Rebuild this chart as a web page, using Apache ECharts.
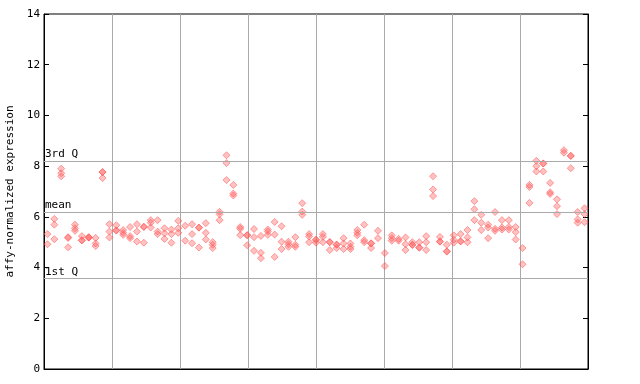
<!DOCTYPE html>
<html>
<head>
<meta charset="utf-8">
<script src="https://cdn.jsdelivr.net/npm/echarts@6/dist/echarts.min.js"></script>
<style>html,body{margin:0;padding:0;background:#fff}#c{width:640px;height:384px}</style>
</head>
<body>
<div id="c"></div>
<script>
// replicate values per sample column (79 columns), sorted high to low; null = no replicate
const rep1 = [5.32,5.92,7.9,5.2,5.69,5.24,5.2,5.17,7.77,5.71,5.67,5.48,5.6,5.71,5.61,5.87,5.87,5.55,5.5,5.84,
  5.65,5.71,5.58,5.75,5.0,6.2,8.43,7.26,5.6,5.28,5.52,5.25,5.5,5.8,5.63,5.02,5.2,6.54,5.32,5.1,
  5.32,5.01,4.91,5.16,4.95,5.48,5.69,4.96,5.45,4.57,5.27,5.13,5.19,5.0,5.0,5.24,7.6,5.21,4.9,5.27,
  5.32,5.48,6.62,6.08,5.69,6.19,5.87,5.87,5.6,4.77,7.26,8.21,8.11,7.34,6.69,8.63,8.41,6.19,6.34];
const rep2 = [4.92,5.69,7.72,5.17,5.55,5.08,5.19,4.95,7.76,5.42,5.47,5.37,5.24,5.42,5.6,5.77,5.42,5.35,5.32,5.55,
  5.06,5.32,5.57,5.37,4.9,6.1,8.12,6.92,5.53,5.27,5.2,4.58,5.42,5.3,5.02,4.92,4.9,6.21,5.23,5.09,
  5.21,5.0,4.9,4.95,4.82,5.37,5.08,4.95,5.16,4.06,5.16,5.06,4.92,4.9,4.79,5.0,7.08,5.03,4.64,5.1,
  5.04,5.19,6.3,5.77,5.58,5.53,5.58,5.6,5.4,4.13,7.18,8.0,8.1,6.97,6.42,8.53,8.4,5.9,6.11];
const rep3 = [null,5.12,7.6,4.8,5.45,5.07,5.18,4.85,7.53,5.19,5.46,5.29,5.16,5.03,4.98,5.58,5.32,5.13,4.98,5.37,
  null,4.96,4.79,5.11,4.77,5.87,7.45,6.84,5.28,4.88,4.66,4.37,5.29,4.42,4.73,4.82,4.82,6.08,5.0,4.98,
  5.0,4.69,4.77,4.73,4.73,5.27,5.0,4.77,null,null,5.06,null,4.69,4.89,4.78,4.69,6.82,5.02,4.63,4.98,
  5.03,5.0,5.87,5.48,5.16,5.45,5.5,5.5,5.11,null,6.55,7.79,7.79,6.9,6.11,null,7.92,5.77,5.79];
const refLines = [{name: '3rd Q', value: 8.2}, {name: 'mean', value: 6.2}, {name: '1st Q', value: 3.58}];
const yTicks = [0, 2, 4, 6, 8, 10, 12, 14];
const nColumns = 79;
const nGroups = 8;

const font = 'DejaVu Sans Mono';
const toPts = arr => arr.map((v, i) => v == null ? null : [i + 0.5, v]).filter(p => p);
const itemStyle = {color: 'rgba(255,85,85,0.45)', borderColor: 'rgba(255,85,85,0.85)', borderWidth: 0.8};

const chart = echarts.init(document.getElementById('c'), null, {renderer: 'canvas'});
const scatter = (arr, withLines) => {
  const s = {type: 'scatter', data: toPts(arr), symbol: 'diamond', symbolSize: [7, 7], itemStyle, silent: true, animation: false, z: 3};
  if (withLines) {
    s.markLine = {
      silent: true, symbol: 'none', animation: false,
      lineStyle: {color: '#aaaaaa', type: 'solid', width: 1},
      label: {position: 'insideStartTop', formatter: p => p.name, fontFamily: font, fontSize: 11, color: '#000', distance: [1, 1]},
      data: refLines.map(r => ({name: r.name, yAxis: r.value}))
    };
  }
  return s;
};
chart.setOption({
  animation: false,
  grid: {left: 44, right: 52, top: 14, bottom: 15, outerBoundsMode: 'none', containLabel: false,
    show: true, borderColor: '#000', borderWidth: 1, backgroundColor: 'transparent'},
  xAxis: {type: 'value', min: 0, max: nColumns, interval: nColumns / nGroups,
    axisLine: {show: true, lineStyle: {color: '#000'}}, axisTick: {show: false}, axisLabel: {show: false},
    splitLine: {show: true, lineStyle: {color: '#aaaaaa', width: 1}}},
  yAxis: [
    {type: 'value', min: yTicks[0], max: yTicks[yTicks.length - 1], interval: 2,
      name: 'affy-normalized expression', nameLocation: 'middle', nameGap: 28,
      nameTextStyle: {fontFamily: font, fontSize: 11, color: '#000'},
      axisLine: {show: true, lineStyle: {color: '#000'}},
      axisTick: {show: true, inside: true, length: 5, lineStyle: {color: '#000'}},
      axisLabel: {fontFamily: font, fontSize: 11, color: '#000', margin: 4},
      splitLine: {show: false}},
    {type: 'value', min: yTicks[0], max: yTicks[yTicks.length - 1], interval: 2, position: 'right',
      axisLine: {show: true, lineStyle: {color: '#000'}},
      axisTick: {show: true, inside: true, length: 5, lineStyle: {color: '#000'}},
      axisLabel: {show: false}, splitLine: {show: false}}
  ],
  series: [scatter(rep1, true), scatter(rep2, false), scatter(rep3, false)]
});
</script>
</body>
</html>
